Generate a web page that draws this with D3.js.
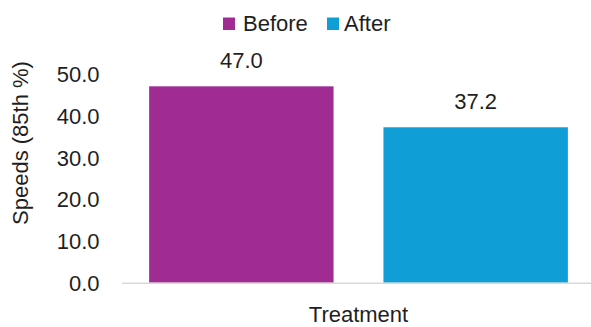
<!DOCTYPE html>
<html>
<head>
<meta charset="utf-8">
<script src="https://cdn.jsdelivr.net/npm/d3@7"></script>
<style>
html,body{margin:0;padding:0;background:#fff;}
svg{display:block;font-family:"Liberation Sans",Arial,sans-serif;}
</style>
</head>
<body>
<svg id="chart" width="591" height="327"></svg>
<script>
const categories = ["Treatment"];
const seriesNames = ["Before", "After"];
const seriesValues = [47.0, 37.2];
const seriesColors = ["#A02B93", "#0F9ED5"];
const yTicks = [0, 10, 20, 30, 40, 50];
const yLabel = "Speeds (85th %)";

const svg = d3.select("#chart");
const textColor = "#1f1f1f";
const fontSize = 22;

const plot = {left: 122, right: 595, top: 73.8, bottom: 282.7};

const y = d3.scaleLinear().domain([0, 50]).range([plot.bottom, plot.top]);
const x0 = d3.scaleBand().domain(categories).range([plot.left, plot.right])
  .paddingInner(0).paddingOuter(0.0648);
const x1 = d3.scaleBand().domain(seriesNames).range([0, x0.bandwidth()])
  .paddingInner(0.213).paddingOuter(0);

// y axis labels
const yAxis = d3.axisLeft(y).tickValues(yTicks).tickFormat(d3.format(".1f")).tickSize(0).tickPadding(0);
const yg = svg.append("g").attr("transform", `translate(99.5,0)`).call(yAxis);
yg.select(".domain").remove();
yg.selectAll("text").attr("font-size", fontSize).attr("fill", textColor)
  .attr("font-family", "Liberation Sans, Arial, sans-serif").attr("dy", "0.35em");

// bars
const data = seriesNames.map((s, i) => ({series: s, value: seriesValues[i], color: seriesColors[i], cat: categories[0]}));
svg.append("g").selectAll("rect").data(data).join("rect")
  .attr("x", d => x0(d.cat) + x1(d.series))
  .attr("width", x1.bandwidth())
  .attr("y", d => y(d.value))
  .attr("height", d => y(0) - y(d.value))
  .attr("fill", d => d.color);

// baseline
svg.append("line")
  .attr("x1", plot.left).attr("x2", 591)
  .attr("y1", y(0) + 0.5).attr("y2", y(0) + 0.5)
  .attr("stroke", "#d9d9d9").attr("stroke-width", 1.5);

// data labels
svg.append("g").selectAll("text").data(data).join("text")
  .attr("x", d => x0(d.cat) + x1(d.series) + x1.bandwidth() / 2)
  .attr("y", d => y(d.value) - 18.3)
  .attr("text-anchor", "middle")
  .attr("font-size", fontSize).attr("fill", textColor)
  .text(d => d3.format(".1f")(d.value));

// x axis category label
svg.append("text")
  .attr("x", x0(categories[0]) + x0.bandwidth() / 2)
  .attr("y", 321.7)
  .attr("text-anchor", "middle")
  .attr("font-size", fontSize).attr("fill", textColor)
  .text(categories[0]);

// y axis title
svg.append("text")
  .attr("transform", `translate(27.5,143) rotate(-90)`)
  .attr("text-anchor", "middle")
  .attr("font-size", fontSize).attr("fill", textColor)
  .text(yLabel);

// legend
const legendItems = [
  {name: seriesNames[0], color: seriesColors[0], sx: 223, tx: 243},
  {name: seriesNames[1], color: seriesColors[1], sx: 327, tx: 344}
];
const lg = svg.append("g");
legendItems.forEach(it => {
  lg.append("rect").attr("x", it.sx).attr("y", 17.5).attr("width", 12).attr("height", 12.5).attr("fill", it.color);
  lg.append("text").attr("x", it.tx).attr("y", 30.5)
    .attr("font-size", fontSize).attr("fill", textColor).text(it.name);
});
</script>
</body>
</html>
